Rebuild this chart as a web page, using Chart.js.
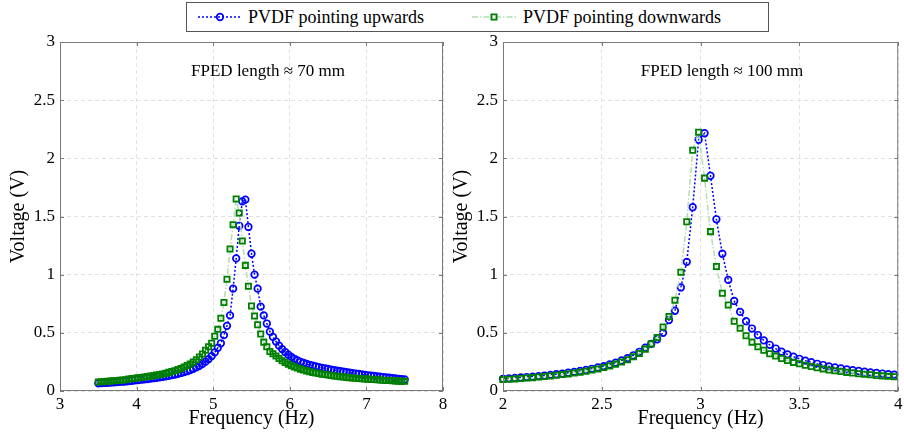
<!DOCTYPE html>
<html>
<head>
<meta charset="utf-8">
<script src="https://cdn.jsdelivr.net/npm/chart.js@4.4.1/dist/chart.umd.min.js"></script>
<style>
  body { margin:0; background:#fff; width:904px; height:434px; position:relative; overflow:hidden; font-family:"Liberation Serif", serif; }
  canvas { position:absolute; top:0; }
  #c70 { left:0; }
  #c100 { left:440px; }
  #legend { position:absolute; left:186px; top:2px; width:581px; height:28px; border:1px solid #555; background:#fff; z-index:2; }
  #legend svg { position:absolute; top:7px; }
  #legend span { position:absolute; top:3px; font-size:18px; line-height:22px; color:#000; white-space:nowrap; }
</style>
</head>
<body>
<canvas id="c70" width="452" height="434"></canvas>
<canvas id="c100" width="464" height="434"></canvas>
<div id="legend">
  <svg style="left:10px" width="46" height="14"><line x1="1" y1="7" x2="45" y2="7" stroke="#0000ff" stroke-width="1.5" stroke-dasharray="2,2"/><circle cx="23" cy="7" r="3.3" fill="none" stroke="#0000ff" stroke-width="1.7"/></svg>
  <span style="left:61px">PVDF pointing upwards</span>
  <svg style="left:284px" width="46" height="14"><line x1="1" y1="7" x2="45" y2="7" stroke="#b5dcb5" stroke-width="1.5" stroke-dasharray="6,2,1.5,2"/><rect x="20.4" y="4.4" width="5.2" height="5.2" fill="none" stroke="#008000" stroke-width="1.8"/></svg>
  <span style="left:336px">PVDF pointing downwards</span>
</div>
<script>
// FPED length ~ 70 mm
const freq70 = [
  3.5,3.54,3.58,3.62,3.66,3.7,3.74,3.78,3.82,3.86,
  3.9,3.94,3.98,4.02,4.06,4.1,4.14,4.18,4.22,4.26,
  4.3,4.34,4.38,4.42,4.46,4.5,4.54,4.58,4.62,4.66,
  4.7,4.74,4.78,4.82,4.86,4.9,4.94,4.98,5.02,5.06,
  5.1,5.14,5.18,5.22,5.26,5.3,5.34,5.38,5.42,5.46,
  5.5,5.54,5.58,5.62,5.66,5.7,5.74,5.78,5.82,5.86,
  5.9,5.94,5.98,6.02,6.06,6.1,6.14,6.18,6.22,6.26,
  6.3,6.34,6.38,6.42,6.46,6.5,6.54,6.58,6.62,6.66,
  6.7,6.74,6.78,6.82,6.86,6.9,6.94,6.98,7.02,7.06,
  7.1,7.14,7.18,7.22,7.26,7.3,7.34,7.38,7.42,7.46,
  7.5
];
const up70 = [
  0.066,0.068,0.069,0.071,0.072,0.074,0.076,0.078,0.080,0.082,
  0.086,0.088,0.091,0.094,0.097,0.100,0.103,0.106,0.110,0.114,
  0.118,0.122,0.126,0.131,0.136,0.142,0.148,0.155,0.162,0.170,
  0.180,0.191,0.203,0.217,0.233,0.252,0.274,0.300,0.332,0.371,
  0.41,0.48,0.56,0.65,0.88,1.14,1.42,1.63,1.645,1.41,
  1.18,1.00,0.88,0.725,0.65,0.58,0.51,0.465,0.425,0.39,
  0.36,0.335,0.312,0.293,0.277,0.263,0.251,0.241,0.232,0.224,
  0.217,0.211,0.205,0.199,0.194,0.189,0.184,0.179,0.174,0.170,
  0.166,0.162,0.158,0.154,0.150,0.146,0.142,0.138,0.135,0.132,
  0.129,0.126,0.123,0.120,0.117,0.114,0.111,0.108,0.105,0.102,
  0.099
];
const down70 = [
  0.078,0.080,0.081,0.083,0.085,0.088,0.090,0.092,0.095,0.097,
  0.104,0.107,0.110,0.113,0.116,0.120,0.124,0.128,0.132,0.137,
  0.142,0.147,0.153,0.160,0.167,0.175,0.184,0.194,0.206,0.219,
  0.233,0.250,0.269,0.292,0.318,0.35,0.38,0.41,0.47,0.53,
  0.625,0.76,0.96,1.22,1.43,1.65,1.53,1.29,1.08,0.90,
  0.73,0.645,0.57,0.49,0.42,0.38,0.34,0.32,0.30,0.28,
  0.26,0.245,0.23,0.218,0.207,0.197,0.188,0.180,0.173,0.166,
  0.160,0.155,0.150,0.145,0.141,0.137,0.133,0.129,0.126,0.123,
  0.120,0.117,0.115,0.112,0.110,0.108,0.106,0.104,0.102,0.100,
  0.098,0.096,0.094,0.093,0.091,0.090,0.088,0.087,0.085,0.084,
  0.083
];

// FPED length ~ 100 mm
const freq100 = [
  2,2.03,2.06,2.09,2.12,2.15,2.18,2.21,2.24,2.27,
  2.3,2.33,2.36,2.39,2.42,2.45,2.48,2.51,2.54,2.57,
  2.6,2.63,2.66,2.69,2.72,2.75,2.78,2.81,2.84,2.87,
  2.9,2.93,2.96,2.99,3.02,3.05,3.08,3.11,3.14,3.17,
  3.2,3.23,3.26,3.29,3.32,3.35,3.38,3.41,3.44,3.47,
  3.5,3.53,3.56,3.59,3.62,3.65,3.68,3.71,3.74,3.77,
  3.8,3.83,3.86,3.89,3.92,3.95,3.98
];
const up100 = [
  0.105,0.109,0.112,0.116,0.120,0.124,0.128,0.133,0.139,0.144,
  0.150,0.157,0.164,0.172,0.181,0.191,0.202,0.214,0.228,0.244,
  0.262,0.283,0.307,0.337,0.372,0.405,0.445,0.50,0.61,0.69,
  0.89,1.11,1.58,2.16,2.216,1.85,1.476,1.18,0.955,0.774,
  0.68,0.60,0.537,0.481,0.435,0.397,0.365,0.338,0.315,0.295,
  0.277,0.261,0.247,0.234,0.223,0.212,0.203,0.194,0.186,0.179,
  0.172,0.166,0.160,0.155,0.150,0.145,0.141
];
const down100 = [
  0.098,0.101,0.104,0.108,0.111,0.115,0.120,0.124,0.129,0.135,
  0.141,0.147,0.154,0.162,0.170,0.180,0.190,0.202,0.216,0.231,
  0.249,0.269,0.294,0.323,0.36,0.405,0.46,0.55,0.64,0.78,
  1.02,1.455,2.07,2.224,1.83,1.37,1.07,0.84,0.74,0.60,
  0.54,0.475,0.42,0.38,0.35,0.32,0.300,0.280,0.262,0.246,
  0.234,0.221,0.210,0.200,0.190,0.181,0.174,0.167,0.160,0.154,
  0.149,0.144,0.139,0.134,0.130,0.126,0.122
];

const yTicks = [0, 0.5, 1, 1.5, 2, 2.5, 3];

const SERIF = '"Liberation Serif", "Times New Roman", serif';
Chart.defaults.color = '#000';

// box, inward tick marks and the note text
const boxPlugin = {
  id: 'box',
  afterDraw(chart, args, opts) {
    const { ctx, chartArea: a, scales: { x, y } } = chart;
    ctx.save();
    ctx.strokeStyle = '#7a7a7a';
    ctx.lineWidth = 1;
    ctx.beginPath();
    x.ticks.forEach(t => {
      const px = Math.round(x.getPixelForValue(t.value)) + 0.5;
      ctx.moveTo(px, a.bottom); ctx.lineTo(px, a.bottom - 4);
      ctx.moveTo(px, a.top); ctx.lineTo(px, a.top + 4);
    });
    y.ticks.forEach(t => {
      const py = Math.round(y.getPixelForValue(t.value)) + 0.5;
      ctx.moveTo(a.left, py); ctx.lineTo(a.left + 4, py);
      ctx.moveTo(a.right, py); ctx.lineTo(a.right - 4, py);
    });
    ctx.stroke();
    ctx.strokeRect(a.left + 0.5, a.top + 0.5, a.width - 1, a.height - 1);
    ctx.fillStyle = '#000';
    ctx.font = '17px ' + SERIF;
    ctx.textAlign = 'center';
    ctx.textBaseline = 'middle';
    ctx.fillText(opts.text, opts.x, 72);
    ctx.restore();
  }
};

function makeChart(id, freqs, up, down, xMin, xMax, xStep, yWidth, rightPad, titlePad, note, noteX) {
  const pts = vals => vals.map((v, i) => ({ x: freqs[i], y: v }));
  const tickFont = { family: SERIF, size: 17 };
  const titleFont = { family: SERIF, size: 20 };
  return new Chart(document.getElementById(id), {
    type: 'line',
    data: {
      datasets: [
        { label: 'PVDF pointing upwards', data: pts(up), order: 1,
          borderColor: '#0000ff', borderWidth: 1.5, borderDash: [2, 2],
          pointStyle: 'circle', pointRadius: 3.3, pointBorderWidth: 1.7,
          pointBorderColor: '#0000ff', pointBackgroundColor: 'rgba(0,0,0,0)', clip: false },
        { label: 'PVDF pointing downwards', data: pts(down), order: 0,
          borderColor: '#b5dcb5', borderWidth: 1.5, borderDash: [6, 2, 1.5, 2],
          pointStyle: 'rect', pointRadius: 3.7, pointBorderWidth: 1.8,
          pointBorderColor: '#008000', pointBackgroundColor: 'rgba(0,0,0,0)', clip: false }
      ]
    },
    options: {
      responsive: false,
      animation: false,
      events: [],
      layout: { padding: { top: 42, right: rightPad, left: 0, bottom: 0 } },
      plugins: { legend: { display: false }, tooltip: { enabled: false },
                 box: { text: note, x: noteX } },
      scales: {
        x: {
          type: 'linear', min: xMin, max: xMax,
          ticks: { stepSize: xStep, padding: 3, font: tickFont, callback: v => String(v) },
          grid: { color: '#e2e2e2', drawTicks: false },
          border: { display: false, dash: [4, 3] },
          title: { display: true, text: 'Frequency (Hz)', font: titleFont, padding: { top: 0, bottom: 3 } },
          afterFit: s => { s.height = 43; s.paddingLeft = 0; s.paddingRight = 0; }
        },
        y: {
          min: 0, max: 3,
          afterBuildTicks: s => { s.ticks = yTicks.map(v => ({ value: v })); },
          ticks: { padding: 5, font: tickFont, callback: v => String(v) },
          grid: { color: '#e2e2e2', drawTicks: false },
          border: { display: false, dash: [4, 3] },
          title: { display: true, text: 'Voltage (V)', font: titleFont, padding: { top: titlePad, bottom: 0 } },
          afterFit: s => { s.width = yWidth; s.paddingTop = 0; s.paddingBottom = 0; }
        }
      }
    },
    plugins: [boxPlugin]
  });
}

makeChart('c70', freq70, up70, down70, 3, 8, 1, 60, 9, 7, 'FPED length \u2248 70 mm', 268);
makeChart('c100', freq100, up100, down100, 2, 4, 0.5, 63, 2, 10, 'FPED length \u2248 100 mm', 282);
</script>
</body>
</html>
